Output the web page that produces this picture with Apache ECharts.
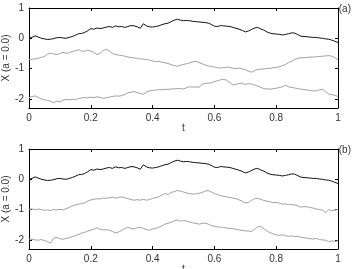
<!DOCTYPE html>
<html>
<head>
<meta charset="utf-8">
<script src="https://cdn.jsdelivr.net/npm/echarts@6/dist/echarts.min.js"></script>
<style>
  html, body { margin: 0; padding: 0; background: #fff; }
  #chart { width: 352px; height: 269px; }
</style>
</head>
<body>
<div id="chart"></div>
<script>
// sample times
var tValues = [
  0.00, 0.01, 0.02, 0.03, 0.04, 0.05, 0.06, 0.07, 0.08, 0.09,
  0.10, 0.11, 0.12, 0.13, 0.14, 0.15, 0.16, 0.17, 0.18, 0.19,
  0.20, 0.21, 0.22, 0.23, 0.24, 0.25, 0.26, 0.27, 0.28, 0.29,
  0.30, 0.31, 0.32, 0.33, 0.34, 0.35, 0.36, 0.37, 0.38, 0.39,
  0.40, 0.41, 0.42, 0.43, 0.44, 0.45, 0.46, 0.47, 0.48, 0.49,
  0.50, 0.51, 0.52, 0.53, 0.54, 0.55, 0.56, 0.57, 0.58, 0.59,
  0.60, 0.61, 0.62, 0.63, 0.64, 0.65, 0.66, 0.67, 0.68, 0.69,
  0.70, 0.71, 0.72, 0.73, 0.74, 0.75, 0.76, 0.77, 0.78, 0.79,
  0.80, 0.81, 0.82, 0.83, 0.84, 0.85, 0.86, 0.87, 0.88, 0.89,
  0.90, 0.91, 0.92, 0.93, 0.94, 0.95, 0.96, 0.97, 0.98, 0.99,
  1.00
];

// black path (same in both panels)
var blackPath = [
  0.00, 0.03, 0.08, 0.04, 0.00, -0.02, -0.04, -0.03, -0.01, 0.02,
  0.03, 0.01, 0.00, 0.03, 0.06, 0.10, 0.15, 0.16, 0.19, 0.25,
  0.32, 0.30, 0.34, 0.32, 0.34, 0.37, 0.39, 0.36, 0.41, 0.38,
  0.39, 0.36, 0.39, 0.42, 0.41, 0.38, 0.33, 0.48, 0.41, 0.38,
  0.37, 0.39, 0.41, 0.45, 0.48, 0.50, 0.55, 0.60, 0.63, 0.60,
  0.58, 0.59, 0.58, 0.56, 0.55, 0.54, 0.53, 0.52, 0.50, 0.46,
  0.40, 0.39, 0.42, 0.41, 0.40, 0.39, 0.36, 0.33, 0.30, 0.26,
  0.21, 0.24, 0.29, 0.34, 0.36, 0.31, 0.27, 0.21, 0.17, 0.15,
  0.14, 0.13, 0.11, 0.13, 0.15, 0.18, 0.17, 0.12, 0.07, 0.06,
  0.05, 0.04, 0.03, 0.03, 0.01, 0.00, -0.02, -0.03, -0.06, -0.10,
  -0.14
];

// panel (a) grey paths
var greyUpperA = [
  -0.70, -0.69, -0.68, -0.66, -0.63, -0.60, -0.52, -0.49, -0.52, -0.54,
  -0.50, -0.46, -0.50, -0.47, -0.44, -0.41, -0.38, -0.42, -0.43, -0.39,
  -0.42, -0.46, -0.54, -0.49, -0.40, -0.36, -0.42, -0.50, -0.54, -0.55,
  -0.57, -0.59, -0.62, -0.63, -0.65, -0.66, -0.68, -0.69, -0.70, -0.72,
  -0.75, -0.77, -0.76, -0.79, -0.81, -0.83, -0.87, -0.90, -0.92, -0.89,
  -0.86, -0.84, -0.81, -0.78, -0.76, -0.80, -0.84, -0.88, -0.91, -0.93,
  -0.95, -0.97, -0.98, -0.97, -0.95, -0.96, -0.99, -1.00, -0.98, -1.01,
  -1.04, -1.08, -1.12, -1.07, -1.03, -1.02, -1.01, -1.00, -0.99, -0.97,
  -0.96, -0.94, -0.90, -0.87, -0.80, -0.76, -0.70, -0.66, -0.64, -0.64,
  -0.63, -0.62, -0.62, -0.61, -0.60, -0.59, -0.58, -0.57, -0.59, -0.64,
  -0.71
];
var greyLowerA = [
  -1.96, -1.92, -1.90, -1.95, -2.00, -2.03, -2.05, -2.08, -2.13, -2.07,
  -2.10, -2.04, -2.02, -2.03, -2.01, -2.02, -1.99, -1.97, -1.95, -1.97,
  -1.94, -1.96, -1.93, -1.95, -1.98, -1.96, -1.94, -1.92, -1.90, -1.91,
  -1.89, -1.86, -1.80, -1.78, -1.76, -1.79, -1.82, -1.85, -1.77, -1.74,
  -1.72, -1.71, -1.69, -1.70, -1.68, -1.69, -1.67, -1.67, -1.66, -1.66,
  -1.67, -1.63, -1.60, -1.61, -1.60, -1.62, -1.52, -1.49, -1.48, -1.47,
  -1.43, -1.40, -1.37, -1.36, -1.38, -1.46, -1.54, -1.52, -1.49, -1.48,
  -1.53, -1.49, -1.51, -1.54, -1.58, -1.62, -1.66, -1.67, -1.68, -1.66,
  -1.65, -1.62, -1.60, -1.55, -1.60, -1.62, -1.64, -1.66, -1.68, -1.69,
  -1.71, -1.72, -1.74, -1.73, -1.70, -1.68, -1.76, -1.84, -1.86, -1.88,
  -1.92
];

// panel (b) grey paths
var greyUpperB = [
  -0.99, -0.98, -1.00, -0.98, -1.00, -1.02, -1.01, -1.03, -1.00, -1.01,
  -0.99, -1.01, -0.97, -0.93, -0.88, -0.85, -0.82, -0.80, -0.78, -0.72,
  -0.68, -0.66, -0.64, -0.65, -0.62, -0.63, -0.61, -0.59, -0.62, -0.60,
  -0.58, -0.61, -0.64, -0.67, -0.69, -0.67, -0.69, -0.66, -0.69, -0.67,
  -0.63, -0.60, -0.58, -0.52, -0.47, -0.50, -0.43, -0.41, -0.37, -0.39,
  -0.42, -0.45, -0.47, -0.49, -0.48, -0.46, -0.44, -0.39, -0.37, -0.42,
  -0.47, -0.50, -0.54, -0.56, -0.58, -0.60, -0.62, -0.64, -0.68, -0.72,
  -0.78, -0.76, -0.70, -0.64, -0.63, -0.66, -0.70, -0.72, -0.74, -0.77,
  -0.76, -0.79, -0.82, -0.81, -0.84, -0.83, -0.85, -0.88, -0.92, -0.90,
  -0.91, -0.93, -0.95, -0.98, -1.00, -1.02, -1.10, -1.00, -1.04, -1.02,
  -0.99
];
var greyLowerB = [
  -2.00, -1.98, -2.00, -2.01, -1.99, -2.02, -2.06, -2.11, -1.94, -1.92,
  -1.96, -1.98, -1.95, -1.93, -1.89, -1.86, -1.82, -1.78, -1.75, -1.71,
  -1.68, -1.64, -1.60, -1.65, -1.67, -1.66, -1.68, -1.72, -1.77, -1.74,
  -1.68, -1.63, -1.58, -1.62, -1.64, -1.60, -1.58, -1.62, -1.66, -1.68,
  -1.64, -1.62, -1.58, -1.54, -1.48, -1.45, -1.42, -1.37, -1.34, -1.38,
  -1.36, -1.38, -1.41, -1.44, -1.45, -1.48, -1.46, -1.44, -1.48, -1.53,
  -1.55, -1.57, -1.58, -1.59, -1.61, -1.62, -1.63, -1.65, -1.67, -1.69,
  -1.70, -1.71, -1.72, -1.65, -1.57, -1.56, -1.63, -1.70, -1.76, -1.80,
  -1.83, -1.85, -1.83, -1.86, -1.88, -1.87, -1.89, -1.88, -1.91, -1.93,
  -1.94, -1.96, -1.97, -1.95, -1.99, -2.00, -2.01, -2.06, -2.03, -2.05,
  -2.03
];

var yTicks = [-2, -1, 0, 1];
var panelLabels = ['(a)', '(b)'];
var xName = 't';
var yName = 'X (a = 0.0)';

function pairs(vals) {
  return tValues.map(function (t, i) { return [t, vals[i]]; });
}

var font = '"Liberation Sans", Arial, sans-serif';
var myChart = echarts.init(document.getElementById('chart'));

var grids = [
  { left: 29, top: 8, width: 309, height: 100, outerBoundsMode: 'none' },
  { left: 29, top: 149, width: 309, height: 100, outerBoundsMode: 'none' }
];

var xAxes = [];
var yAxes = [];
for (var g = 0; g < 2; g++) {
  // bottom x axis with labels
  xAxes.push({
    gridIndex: g, type: 'value', min: 0, max: 1, interval: 0.2,
    name: xName, nameLocation: 'middle', nameGap: 15, nameMoveOverlap: false,
    nameTextStyle: { color: '#333', fontSize: 10, fontFamily: font },
    axisLine: { onZero: false, lineStyle: { color: '#000', width: 1 } },
    axisTick: { inside: true, length: 3, lineStyle: { color: '#000' } },
    axisLabel: { color: '#333', fontSize: 10, fontFamily: font, margin: 5 },
    splitLine: { show: false }
  });
  // top x axis (box + ticks)
  xAxes.push({
    gridIndex: g, type: 'value', position: 'top', min: 0, max: 1, interval: 0.2,
    axisLine: { onZero: false, lineStyle: { color: '#000', width: 1 } },
    axisTick: { inside: true, length: 3, lineStyle: { color: '#000' } },
    axisLabel: { show: false },
    splitLine: { show: false }
  });
  yAxes.push({
    gridIndex: g, type: 'value', min: -2.3, max: 1,
    name: yName, nameLocation: 'middle', nameGap: 18, nameMoveOverlap: false,
    nameTextStyle: { color: '#333', fontSize: 10, fontFamily: font },
    axisLine: { show: true, onZero: false, lineStyle: { color: '#000', width: 1 } },
    axisTick: { show: true, inside: true, length: 3, customValues: yTicks, lineStyle: { color: '#000' } },
    axisLabel: { color: '#333', fontSize: 10, fontFamily: font, margin: 5, customValues: yTicks },
    splitLine: { show: false }
  });
  yAxes.push({
    gridIndex: g, type: 'value', position: 'right', min: -2.3, max: 1,
    axisLine: { show: true, onZero: false, lineStyle: { color: '#000', width: 1 } },
    axisTick: { show: true, inside: true, length: 3, customValues: yTicks, lineStyle: { color: '#000' } },
    axisLabel: { show: false, customValues: yTicks },
    splitLine: { show: false }
  });
}

function line(vals, g, color) {
  return {
    type: 'line', xAxisIndex: g * 2, yAxisIndex: g * 2,
    data: pairs(vals), showSymbol: false, silent: true, animation: false,
    lineStyle: { color: color, width: 1 }
  };
}

myChart.setOption({
  animation: false,
  title: [
    { text: panelLabels[0], right: 1, top: 4, padding: 0, textStyle: { fontSize: 10, fontWeight: 'normal', color: '#333', fontFamily: font } },
    { text: panelLabels[1], right: 1, top: 145, padding: 0, textStyle: { fontSize: 10, fontWeight: 'normal', color: '#333', fontFamily: font } }
  ],
  grid: grids,
  xAxis: xAxes,
  yAxis: yAxes,
  series: [
    line(greyLowerA, 0, '#a0a0a0'),
    line(greyUpperA, 0, '#a0a0a0'),
    line(blackPath, 0, '#111'),
    line(greyLowerB, 1, '#a0a0a0'),
    line(greyUpperB, 1, '#a0a0a0'),
    line(blackPath, 1, '#111')
  ]
});
window.onresize = myChart.resize;
</script>
</body>
</html>
